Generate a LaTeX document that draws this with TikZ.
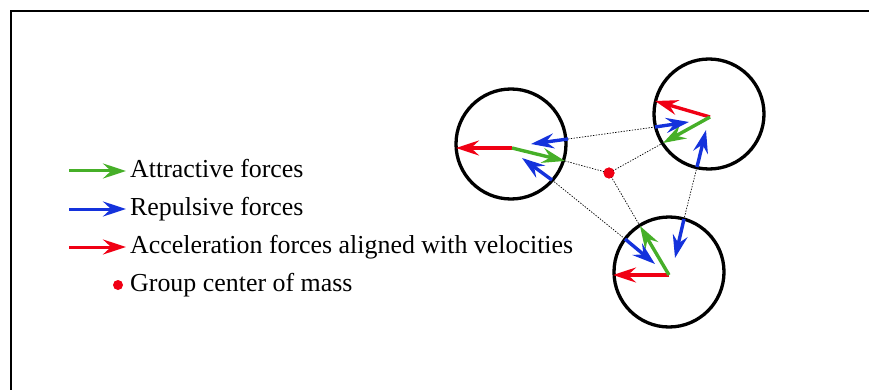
\documentclass[tikz,border=0pt]{standalone}
\usepackage{fontspec}
\setmainfont{Liberation Serif}
\usetikzlibrary{arrows.meta}
\definecolor{fgreen}{RGB}{70,175,40}
\definecolor{fblue}{RGB}{20,50,220}
\definecolor{fred}{RGB}{240,0,20}
\tikzset{
  force/.style={line width=3.4pt, -{Stealth[length=23pt,width=15pt,inset=8pt]}},
  agent/.style={circle, draw, line width=3.3pt, minimum size=110pt, inner sep=0pt},
  link/.style={line width=0.7pt, dash pattern=on 1.4pt off 1.4pt},
  lbl/.style={anchor=base west, font=\fontsize{25.9}{28}\selectfont, inner sep=0pt},
  cmdot/.style={circle, fill=fred, minimum size=11pt, inner sep=0pt},
}
\begin{document}
\begin{tikzpicture}[x=1pt,y=-1pt]
\useasboundingbox (0,0) rectangle (869,390);
\draw[line width=1.8pt] (11,392) -- (11,11) -- (871,11);
% agents
\node[agent] (A) at (511,144) {};
\node[agent] (B) at (709,114) {};
\node[agent] (C) at (669,272) {};
\node[cmdot] (M) at (609,173) {};
% coordinates
\coordinate (Ac) at (512,148);
\coordinate (Ar) at (456,148);
\coordinate (Ag) at (565,161);
\coordinate (Ab1s) at (568,139);
\coordinate (Ab1t) at (531,144);
\coordinate (Ab2s) at (552,180);
\coordinate (Ab2t) at (522,158);
\coordinate (Bc) at (710,117);
\coordinate (Br) at (655,101);
\coordinate (Bg) at (663,143);
\coordinate (Bb1s) at (655,127);
\coordinate (Bb1t) at (689,122);
\coordinate (Bb2s) at (697,167);
\coordinate (Bb2t) at (706,130);
\coordinate (Cc) at (669,275);
\coordinate (Cr) at (613,275);
\coordinate (Cg) at (640,226);
\coordinate (Cb1s) at (625,239);
\coordinate (Cb1t) at (655,264);
\coordinate (Cb2s) at (684,219);
\coordinate (Cb2t) at (675,258);
% dotted links
\draw[link] (Ab1s) -- (Bb1s);
\draw[link] (Ab2s) -- (Cb1s);
\draw[link] (Bb2s) -- (Cb2s);
\draw[link] (Ag) -- (M.center);
\draw[link] (Bg) -- (M.center);
\draw[link] (Cg) -- (M.center);
% forces
\draw[force, fred] (Ac) -- (Ar);
\draw[force, fgreen] (Ac) -- (Ag);
\draw[force, fblue] (Ab1s) -- (Ab1t);
\draw[force, fblue] (Ab2s) -- (Ab2t);
\draw[force, fred] (Bc) -- (Br);
\draw[force, fgreen] (Bc) -- (Bg);
\draw[force, fblue] (Bb1s) -- (Bb1t);
\draw[force, fblue] (Bb2s) -- (Bb2t);
\draw[force, fred] (Cc) -- (Cr);
\draw[force, fgreen] (Cc) -- (Cg);
\draw[force, fblue] (Cb1s) -- (Cb1t);
\draw[force, fblue] (Cb2s) -- (Cb2t);
\node[cmdot] at (M) {};
% legend
\coordinate (L1s) at (69,171); \coordinate (L1e) at (126,171);
\coordinate (L2s) at (69,209); \coordinate (L2e) at (126,209);
\coordinate (L3s) at (69,247); \coordinate (L3e) at (126,247);
\draw[force, fgreen, line width=3pt] (L1s) -- (L1e);
\draw[force, fblue, line width=3pt] (L2s) -- (L2e);
\draw[force, fred, line width=3pt] (L3s) -- (L3e);
\node[cmdot, minimum size=10pt] (LM) at (118,285) {};
\node[lbl] (T1) at (130,177.5) {Attractive forces};
\node[lbl] (T2) at (130,215.5) {Repulsive forces};
\node[lbl] (T3) at (130,253.5) {Acceleration forces aligned with velocities};
\node[lbl] (T4) at (130,291.5) {Group center of mass};
\end{tikzpicture}
\end{document}
